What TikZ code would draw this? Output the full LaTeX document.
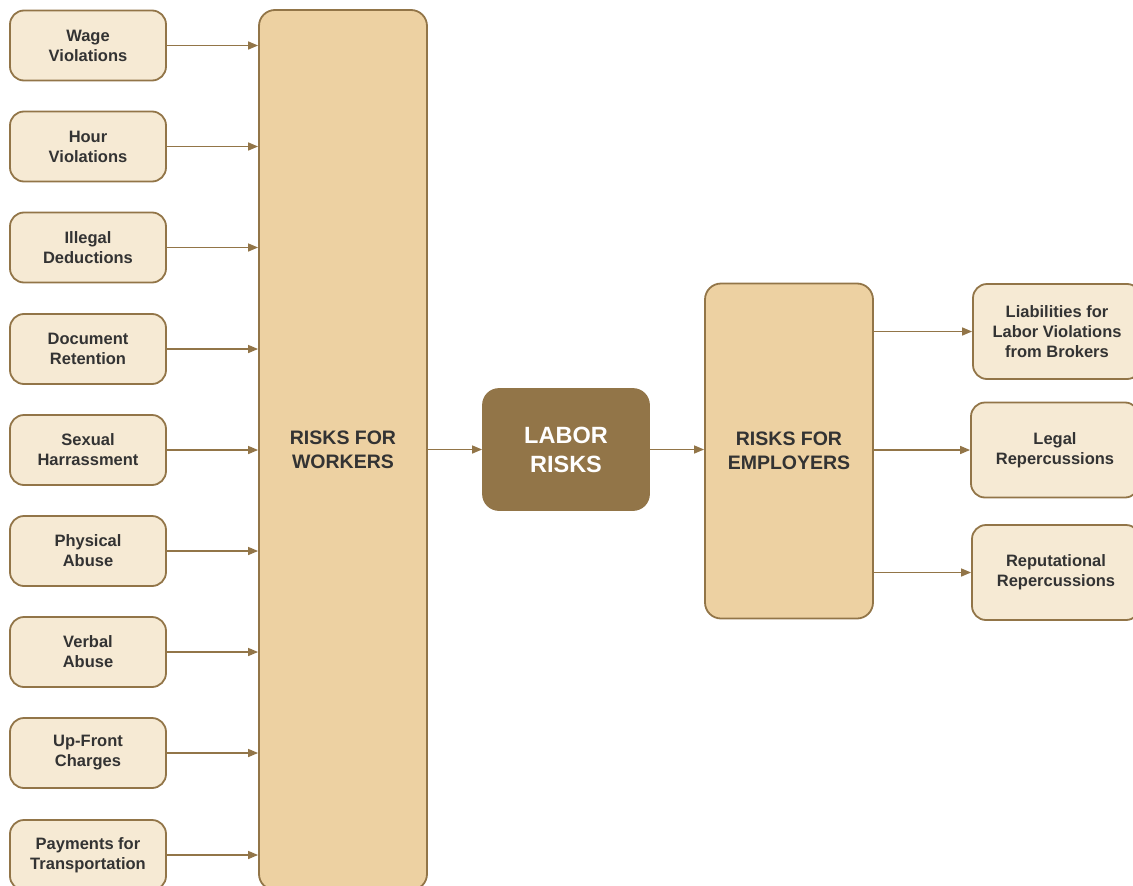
\documentclass[tikz,border=0pt]{standalone}
\usepackage{fontspec}
\setmainfont{Liberation Sans}
\usetikzlibrary{arrows.meta}
\definecolor{brownline}{HTML}{927548}
\definecolor{cream}{HTML}{F6EAD4}
\definecolor{tanfill}{HTML}{EDD1A2}
\definecolor{txt}{HTML}{333333}
\tikzset{
  smallbox/.style={draw=brownline, line width=1.8pt, fill=cream, rounded corners=14pt,
    minimum width=156pt, minimum height=70pt, align=center, inner sep=0pt,
    font=\bfseries\fontsize{16.5}{20}\selectfont, text=txt},
  rightbox/.style={smallbox, minimum width=168pt, minimum height=95pt},
  bigbox/.style={draw=brownline, line width=1.8pt, fill=tanfill, rounded corners=16pt,
    minimum width=168pt, align=center, inner sep=0pt,
    font=\bfseries\fontsize{19.5}{24}\selectfont, text=txt},
  centerbox/.style={draw=brownline, line width=1.8pt, fill=brownline, rounded corners=16pt,
    minimum width=166pt, minimum height=121pt, align=center, inner sep=0pt,
    font=\bfseries\fontsize{23.5}{29}\selectfont, text=white},
  link/.style={draw=brownline, line width=1.4pt, -{Triangle[length=10pt,width=8pt]}}
}
\begin{document}
\begin{tikzpicture}[x=1pt,y=-1pt]
\useasboundingbox (0,0) rectangle (1133,886);
\clip (0,0) rectangle (1133,886);
% big boxes
\node[bigbox, minimum height=880pt] (workers) at (343,450) {RISKS FOR\\WORKERS};
\node[bigbox, minimum height=335pt] (employers) at (789,451) {RISKS FOR\\EMPLOYERS};
\node[centerbox] (labor) at (566,449.5) {LABOR\\RISKS};
% left boxes
\node[smallbox] (w1) at (88,45.5) {Wage\\Violations};
\node[smallbox] (w2) at (88,146.5) {Hour\\Violations};
\node[smallbox] (w3) at (88,247.5) {Illegal\\Deductions};
\node[smallbox] (w4) at (88,349) {Document\\Retention};
\node[smallbox] (w5) at (88,450) {Sexual\\Harrassment};
\node[smallbox] (w6) at (88,551) {Physical\\Abuse};
\node[smallbox] (w7) at (88,652) {Verbal\\Abuse};
\node[smallbox] (w8) at (88,753) {Up-Front\\Charges};
\node[smallbox] (w9) at (88,855) {Payments for\\Transportation};
% right boxes
\node[rightbox] (r1) at (1057,331.5) {Liabilities for\\Labor Violations\\from Brokers};
\node[rightbox] (r2) at (1055,450) {Legal\\Repercussions};
\node[rightbox] (r3) at (1056,572.5) {Reputational\\Repercussions};
% connectors
\foreach \i in {1,...,9} {
  \draw[link] (w\i.east) -- (workers.west |- w\i.east);
}
\draw[link] (workers.east |- labor.west) -- (labor.west);
\draw[link] (labor.east) -- (employers.west |- labor.east);
\foreach \i in {1,2,3} {
  \draw[link] (employers.east |- r\i.west) -- (r\i.west);
}
\end{tikzpicture}
\end{document}
